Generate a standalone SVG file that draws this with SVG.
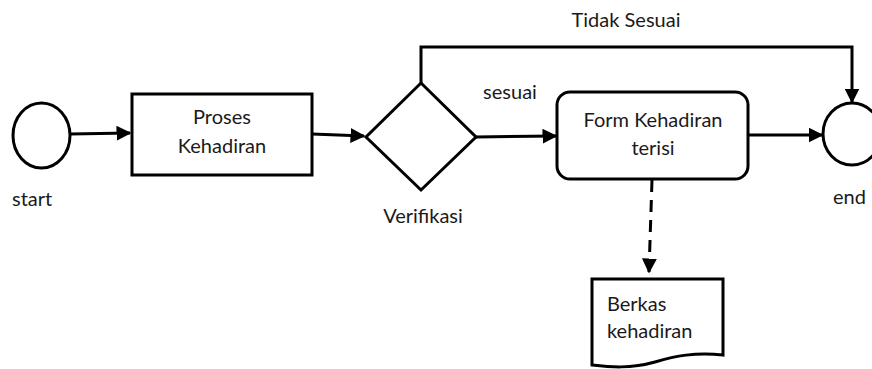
<svg xmlns="http://www.w3.org/2000/svg" width="872" height="369" viewBox="0 0 872 369">
<style>
.s{fill:#fff;stroke:#000;stroke-width:3}
.c{fill:none;stroke:#000;stroke-width:3}
.d{stroke-dasharray:12,8}
text{font-family:Lato,"Liberation Sans",sans-serif;font-size:20px;fill:#1a1a1a}
.m{text-anchor:middle}
</style>
<defs>
<marker id="a" viewBox="0 0 10 10" refX="9" refY="5" markerWidth="5" markerHeight="5" orient="auto" markerUnits="strokeWidth"><path d="M0,0L10,5L0,10z" fill="#000"/></marker>
</defs>
<g id="connectors">
<path class="c" d="M70,134L130,133" marker-end="url(#a)"/>
<path class="c" d="M312,134L364,136" marker-end="url(#a)"/>
<path class="c" d="M476,137L556,136" marker-end="url(#a)"/>
<path class="c" d="M748,135L822,135" marker-end="url(#a)"/>
<path class="c" d="M421,83V47H852V102" marker-end="url(#a)"/>
<path class="c d" d="M652,180L649,272" marker-end="url(#a)"/>
<text class="m" x="626" y="27">Tidak Sesuai</text>
<text class="m" x="510" y="99">sesuai</text>
</g>
<g id="start">
<ellipse class="s" cx="41.5" cy="135.5" rx="28.5" ry="32.5"/>
<text x="12" y="206">start</text>
</g>
<g id="proses">
<rect class="s" x="132" y="94" width="180" height="81"/>
<text class="m" x="222" y="124">Proses</text>
<text class="m" x="222" y="153">Kehadiran</text>
</g>
<g id="verifikasi">
<path class="s" d="M421,83L476,137L421,190L366,137z"/>
<text class="m" x="423" y="223">Verifikasi</text>
</g>
<g id="form">
<rect class="s" x="557" y="92" width="191" height="87" rx="13"/>
<text class="m" x="653" y="127">Form Kehadiran</text>
<text class="m" x="653" y="155">terisi</text>
</g>
<g id="end">
<ellipse class="s" cx="852" cy="134" rx="29" ry="31"/>
<text x="833" y="204">end</text>
</g>
<g id="berkas">
<path class="s" d="M592,279H723V355C695,352 675,356 655,362C630,369 610,367 592,365z"/>
<text x="607" y="311">Berkas</text>
<text x="607" y="338">kehadiran</text>
</g>
</svg>
